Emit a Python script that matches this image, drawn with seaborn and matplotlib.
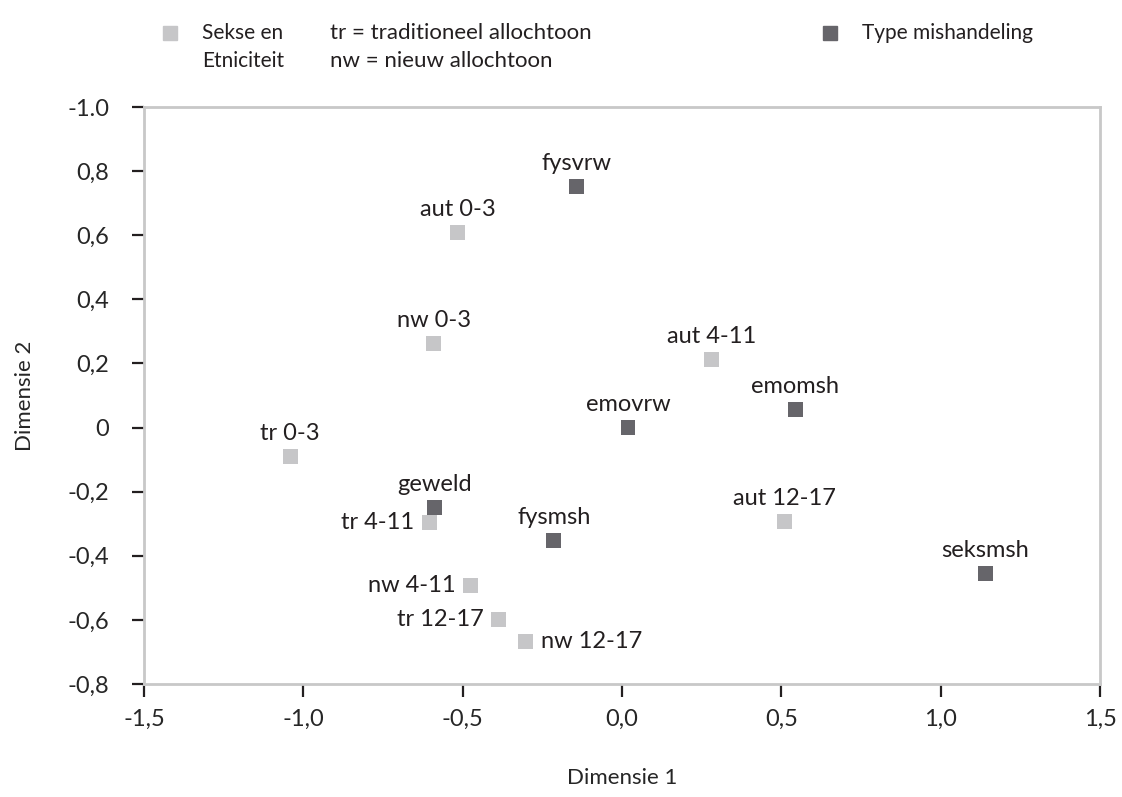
import pandas as pd
import seaborn as sns
import matplotlib.pyplot as plt

# category points (Sekse en Etniciteit)
cat_labels = ["aut 0-3", "nw 0-3", "tr 0-3", "aut 4-11", "tr 4-11", "nw 4-11",
              "aut 12-17", "tr 12-17", "nw 12-17"]
cat_dim1 = [-0.516, -0.591, -1.041, 0.280, -0.604, -0.475, 0.509, -0.387, -0.302]
cat_dim2 = [0.608, 0.262, -0.090, 0.212, -0.296, -0.493, -0.293, -0.599, -0.667]

# type of abuse points (Type mishandeling)
type_labels = ["fysvrw", "emomsh", "emovrw", "geweld", "fysmsh", "seksmsh"]
type_dim1 = [-0.142, 0.544, 0.019, -0.588, -0.214, 1.140]
type_dim2 = [0.752, 0.056, 0.0, -0.250, -0.353, -0.455]

xticks = [-1.5, -1.0, -0.5, 0.0, 0.5, 1.0, 1.5]
xticklabels = ["-1,5", "-1,0", "-0,5", "0,0", "0,5", "1,0", "1,5"]
yticks = [1.0, 0.8, 0.6, 0.4, 0.2, 0.0, -0.2, -0.4, -0.6, -0.8]
yticklabels = ["-1.0", "0,8", "0,6", "0,4", "0,2", "0", "-0,2", "-0,4", "-0,6", "-0,8"]

LIGHT = "#c6c6c8"
DARK = "#66656a"
GRID = "#c8c8c8"
TXT = "#231f20"

df = pd.DataFrame({
    "label": cat_labels + type_labels,
    "dim1": cat_dim1 + type_dim1,
    "dim2": cat_dim2 + type_dim2,
    "group": ["cat"] * len(cat_labels) + ["type"] * len(type_labels),
})

sns.set_style("white")
plt.rcParams["font.family"] = ["Lato", "DejaVu Sans"]
plt.rcParams["text.color"] = TXT
fs = 17      # point and tick labels
fs_leg = 15  # legend text

fig = plt.figure(figsize=(11.22, 7.97), dpi=100)
ax = fig.add_axes([0.1283, 0.1418, 0.8521, 0.7239])

sns.scatterplot(data=df, x="dim1", y="dim2", hue="group",
                palette={"cat": LIGHT, "type": DARK}, marker="s", s=115,
                linewidth=0, legend=False, ax=ax, zorder=3)

# where the label goes relative to its square
side = {"tr 4-11": "left", "nw 4-11": "left", "tr 12-17": "left", "nw 12-17": "right"}
for _, r in df.iterrows():
    where = side.get(r["label"], "above")
    if where == "above":
        ax.annotate(r["label"], (r["dim1"], r["dim2"]), xytext=(0, 9),
                    textcoords="offset points", ha="center", va="bottom", fontsize=fs)
    elif where == "left":
        ax.annotate(r["label"], (r["dim1"], r["dim2"]), xytext=(-11, 0),
                    textcoords="offset points", ha="right", va="center", fontsize=fs)
    else:
        ax.annotate(r["label"], (r["dim1"], r["dim2"]), xytext=(11, 0),
                    textcoords="offset points", ha="left", va="center", fontsize=fs)

ax.set_xlim(-1.5, 1.5)
ax.set_ylim(-0.8, 1.0)
ax.set_xticks(xticks)
ax.set_xticklabels(xticklabels, fontsize=fs)
ax.set_yticks(yticks)
ax.set_yticklabels(yticklabels, fontsize=fs)
ax.tick_params(axis="x", bottom=True, length=9, width=1.6, color=TXT, pad=9)
ax.tick_params(axis="y", left=True, length=9, width=1.6, color=TXT, pad=16)
for sp in ax.spines.values():
    sp.set_color(GRID)
    sp.set_linewidth(2)
ax.set_xlabel("Dimensie 1", fontsize=16)
ax.set_ylabel("Dimensie 2", fontsize=16)
ax.xaxis.set_label_coords(0.5, -0.146)
ax.yaxis.set_label_coords(-0.114, 0.5)

# legend at top
fig.add_artist(plt.Line2D([170 / 1122], [1 - 33 / 797], marker="s", markersize=10.5,
                          color=LIGHT, linestyle="none", transform=fig.transFigure))
fig.add_artist(plt.Line2D([830 / 1122], [1 - 33 / 797], marker="s", markersize=10.5,
                          color=DARK, linestyle="none", transform=fig.transFigure))
fig.text(202 / 1122, 1 - 33 / 797, "Sekse en", fontsize=fs_leg, va="center")
fig.text(202 / 1122, 1 - 61 / 797, "Etniciteit", fontsize=fs_leg, va="center")
fig.text(330 / 1122, 1 - 33 / 797, "tr = traditioneel allochtoon", fontsize=fs_leg + 1, va="center")
fig.text(330 / 1122, 1 - 61 / 797, "nw = nieuw allochtoon", fontsize=fs_leg + 1, va="center")
fig.text(862 / 1122, 1 - 33 / 797, "Type mishandeling", fontsize=fs_leg, va="center")

fig.savefig("out.png", dpi=100)
